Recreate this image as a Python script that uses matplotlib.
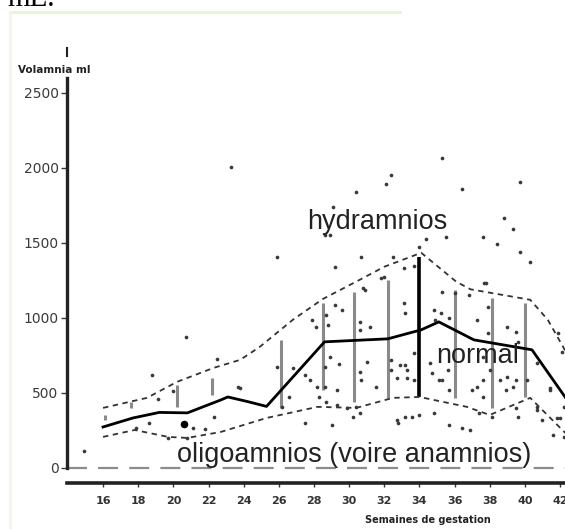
import numpy as np
import matplotlib
matplotlib.use("Agg")
import matplotlib.pyplot as plt
from matplotlib.lines import Line2D

##########################
# data (weeks of gestation vs amniotic volume, ml)

# solid line: normal (median)
med_wk = [16, 17.7, 19.2, 20.8, 22.7, 23.1, 24.3, 25.3, 28.6, 32.2, 34.1, 35.1, 37.1, 40.4, 42.3]
med_ml = [273, 333, 370, 367, 453, 473, 440, 410, 840, 860, 920, 973, 853, 787, 470]

# dashed upper limit
up_wk = [16, 18.5, 20.2, 22.3, 23.8, 24.9, 26.8, 28.5, 30.6, 32.0, 34.1, 36.1, 36.9, 40.3, 41.3, 42.3]
up_ml = [400, 467, 573, 667, 720, 805, 987, 1125, 1253, 1340, 1433, 1240, 1190, 1120, 987, 780]

# dashed lower limit
lo_wk = [16, 17.8, 19.7, 20.8, 22.7, 25.3, 28.2, 30.4, 32.5, 34, 36.7, 38, 40.3, 42.3]
lo_ml = [207, 253, 207, 200, 240, 333, 407, 400, 467, 473, 407, 353, 467, 233]

# grey range bars per week (week, low, high)
bar_wk = [16.1, 17.6, 20.2, 22.2, 26.1, 28.5, 30.3, 32.2, 36.0, 38.1, 40.0]
bar_lo = [320, 400, 407, 487, 400, 520, 440, 467, 467, 400, 473]
bar_hi = [353, 440, 553, 600, 853, 1100, 1173, 1253, 1187, 1133, 1100]

# black bar at 34 weeks
blk_wk = 34.0
blk_lo, blk_hi = 473, 1407

# individual measurements
pts_wk = [32.4, 32.1, 30.4, 29.1, 28.6, 28.9, 25.9, 30.7, 29.2, 32.5, 33.1, 33.7, 32.0,
          35.3, 39.7, 36.4, 38.8, 39.3, 34.4, 35.5, 37.6, 38.4, 39.7, 40.3, 34.0, 37.7,
          30.8, 31.8, 23.3, 20.7, 22.5, 18.8, 20.0, 19.1, 23.7, 19.7, 18.6, 20.8, 21.1,
          21.8, 14.9, 17.9, 29.2, 29.6, 28.7, 27.9, 28.1, 28.8, 30.6, 31.2, 30.6, 30.9,
          33.1, 33.2, 28.9, 29.4, 28.6, 31.0, 30.6, 30.7, 31.5, 29.3, 28.6, 28.2, 28.3,
          28.7, 29.3, 29.9, 30.4, 32.4, 32.9, 33.3, 32.4, 32.7, 33.3, 27.5, 29.0, 30.6,
          32.7, 33.2, 27.8, 27.5, 26.8, 25.9, 26.6, 26.2, 35.3, 36.0, 36.8, 37.8, 37.3,
          34.8, 35.2, 35.7, 34.9, 37.9, 39.0, 39.5, 37.9, 39.6, 33.7, 34.6, 34.7, 35.3,
          35.6, 35.1, 33.2, 33.7, 37.6, 37.3, 37.0, 37.6, 38.6, 39.0, 39.3, 38.9, 39.5,
          40.1, 40.7, 41.4, 42.1, 41.9, 35.7, 33.6, 34.0, 34.8, 35.7, 37.4, 38.1, 39.5,
          39.6, 40.7, 41.0, 41.8, 42.2, 37.6, 38.0, 30.2, 32.8, 36.4, 36.9, 41.6, 42.2,
          42.0, 40.7, 41.4, 23.8, 22.3]
pts_ml = [1953, 1893, 1840, 1740, 1553, 1553, 1407, 1407, 1340, 1407, 1333, 1347, 1273,
          2067, 1907, 1860, 1667, 1593, 1527, 1540, 1540, 1493, 1440, 1373, 1473, 1233,
          1200, 1267, 2007, 873, 727, 620, 513, 460, 540, 200, 300, 200, 267,
          260, 113, 267, 1087, 1053, 1020, 987, 940, 953, 973, 940, 920, 1187,
          1100, 1033, 740, 693, 673, 707, 640, 587, 540, 520, 540, 540, 473,
          440, 420, 400, 407, 720, 687, 653, 653, 600, 600, 300, 287, 367,
          320, 340, 587, 620, 667, 673, 473, 407, 1173, 1167, 1153, 1233, 987,
          1053, 1033, 1000, 987, 1073, 940, 907, 900, 840, 767, 700, 633, 587,
          653, 587, 687, 587, 587, 540, 520, 473, 587, 607, 540, 520, 587,
          587, 700, 520, 773, 900, 520, 340, 353, 367, 287, 367, 340, 400,
          340, 387, 320, 333, 407, 740, 653, 340, 300, 267, 253, 220, 207,
          333, 407, 533, 533, 340]

# the heavy dot at ~20.6 weeks
big_wk, big_ml = 20.6, 293

yticks = [0, 500, 1000, 1500, 2000, 2500]
xticks = list(range(16, 43, 2))

##########################

fig = plt.figure(figsize=(5.65, 5.29), dpi=100)
ax = fig.add_axes([67 / 565, 46 / 529, 498 / 565, 443 / 529])
ax.set_xlim(13.95, 42.28)
ax.set_ylim(-100, 2850)

# range bars
ax.vlines(bar_wk, bar_lo, bar_hi, color="#8a8a8a", linewidth=2.2)
ax.vlines([blk_wk], [blk_lo], [blk_hi], color="black", linewidth=2.6)

# limits and median
ax.plot(up_wk, up_ml, color="#333333", linewidth=1.3, dashes=(3, 2.5))
ax.plot(lo_wk, lo_ml, color="#333333", linewidth=1.3, dashes=(3, 2.5))
ax.plot(med_wk, med_ml, color="black", linewidth=2.0)

ax.scatter(pts_wk, pts_ml, s=7, color="#3a3a3a", zorder=3, linewidths=0)
ax.scatter([big_wk], [big_ml], s=30, color="black", zorder=3, linewidths=0)

# zero level, long dashes
ax.axhline(0, color="#8c8c8c", linewidth=1.6, dashes=(9, 5))

# annotations
ax.text(31.6, 1593, "hydramnios", ha="center", va="baseline",
        fontsize=19.5, family="Liberation Sans", color="#222222")
ax.text(37.3, 700, "normal", ha="center", va="baseline",
        fontsize=19.5, family="Liberation Sans", color="#222222")
ax.text(30.3, 40, "oligoamnios (voire anamnios)", ha="center", va="baseline",
        fontsize=19.5, family="Liberation Sans", color="#222222")

# axes styling to look like the scan
for s in ["top", "right"]:
    ax.spines[s].set_visible(False)
ax.spines["left"].set_linewidth(2.4)
ax.spines["left"].set_color("#222222")
ax.spines["left"].set_bounds(0, 2600)
ax.spines["bottom"].set_linewidth(2.6)
ax.spines["bottom"].set_color("#222222")
# short stub of the axis above the label
ax.plot([13.95, 13.95], [2745, 2800], color="#222222", linewidth=1.5, clip_on=False)

ax.set_yticks(yticks)
ax.set_yticklabels([str(v) for v in yticks])
ax.set_xticks(xticks)
ax.set_xticklabels([str(v) for v in xticks])
ax.tick_params(axis="y", length=4, width=1, pad=2, labelsize=10, colors="#3a3a3a")
ax.tick_params(axis="x", length=3, width=1, pad=6, labelsize=8, colors="#333333")
for lab in ax.get_xticklabels():
    lab.set_fontweight("bold")

fig.text(18 / 565, 1 - 70 / 529, "Volamnia ml", fontsize=7.5, fontweight="bold",
         ha="left", va="center", color="#222222")
fig.text(428 / 565, 1 - 520 / 529, "Semaines de gestation", fontsize=7, fontweight="bold",
         ha="center", va="center", color="#222222")

# text cut off at the top of the scan
fig.text(7 / 565, 1 - 6 / 529, "mE.", fontsize=21, family="Liberation Serif",
         ha="left", va="baseline", color="black")

# faint green border of the scan
fig.add_artist(Line2D([10 / 565, 400 / 565], [1 - 12 / 529, 1 - 12 / 529],
                      color="#e8f2d8", linewidth=2, transform=fig.transFigure))
fig.add_artist(Line2D([10 / 565, 10 / 565], [0, 1 - 12 / 529],
                      color="#f1f7e8", linewidth=2, transform=fig.transFigure))

fig.savefig("out.png", dpi=100)
